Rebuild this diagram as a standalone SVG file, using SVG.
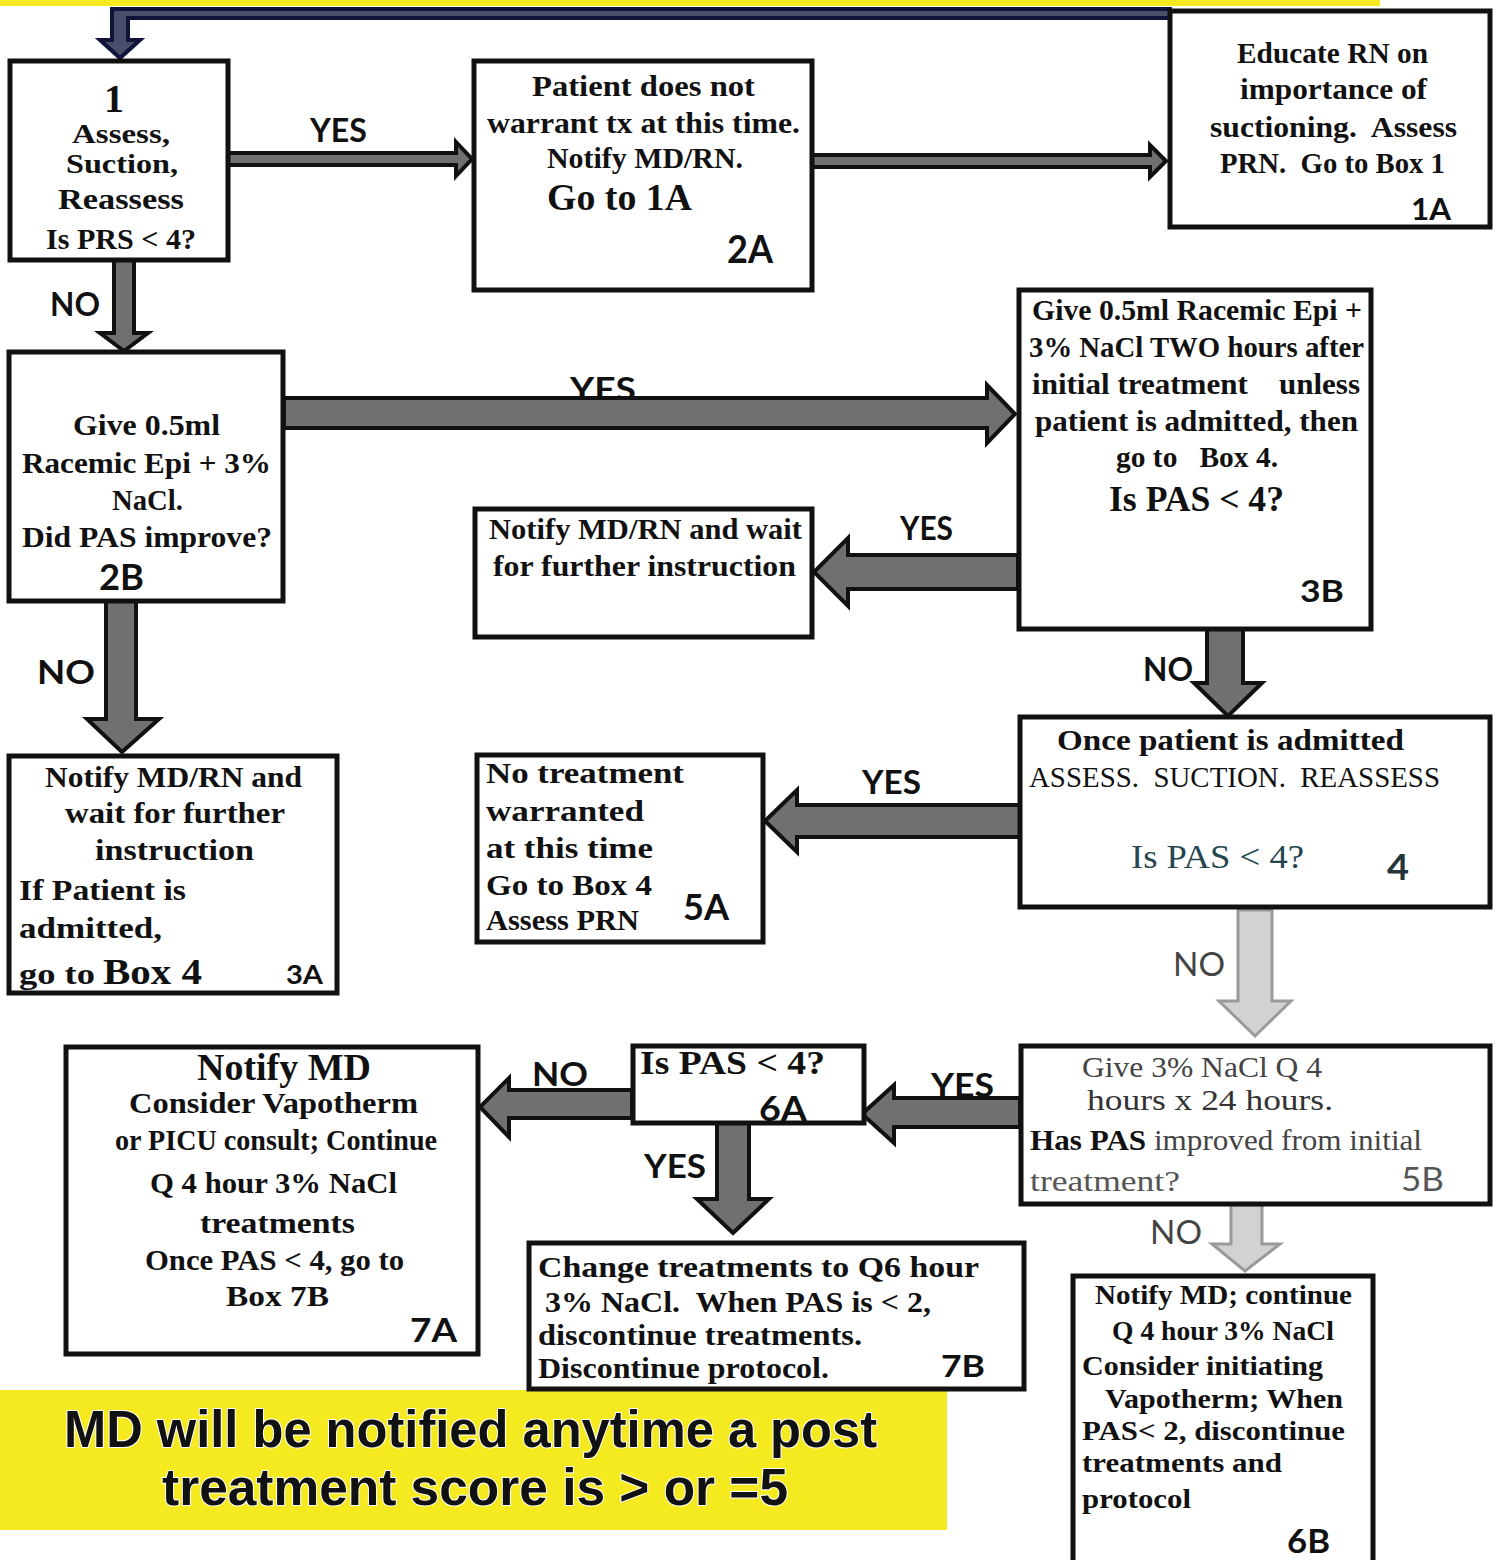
<svg xmlns="http://www.w3.org/2000/svg" width="1501" height="1560" viewBox="0 0 1501 1560">
<style>
.box{fill:#fff;stroke:#111;stroke-width:5}
.arr{fill:#707070;stroke:#111;stroke-width:4;stroke-linejoin:miter}
.arrl{fill:#d2d2d2;stroke:#9a9a9a;stroke-width:3}
text{white-space:pre}
.t{font-family:"Liberation Serif",serif;font-weight:bold;fill:#111;font-size:29px}
.r{font-family:"Liberation Serif",serif;font-weight:normal;fill:#222;font-size:29px}
.lab{font-family:Lato,"Liberation Sans",sans-serif;font-weight:bold;fill:#111;font-size:33px}
.labg{font-family:Lato,"Liberation Sans",sans-serif;font-weight:normal;fill:#444;font-size:33px}
.num{font-family:Lato,"Liberation Sans",sans-serif;font-weight:bold;fill:#111;font-size:36px}
.ban{font-family:"Liberation Sans",Arial,sans-serif;font-weight:bold;fill:#111;font-size:52px;stroke:#fff;stroke-width:2;paint-order:stroke}
</style>
<rect width="1501" height="1560" fill="#fff"/>
<rect x="0" y="0" width="1380" height="6" fill="#f5ea1f"/>
<rect x="0" y="1390" width="947" height="140" fill="#f5ea1f"/>

<g id="connectors">
<polygon class="arr" style="stroke:#10143a;fill:#4a4e6a" points="1170,9 112,9 112,40 100,40 120,58 140,40 128,40 128,18 1170,18"/>
<polygon class="arr" points="228,153 456,153 456,142 472,159 456,176 456,165 228,165"/>
<polygon class="arr" points="812,155 1150,155 1150,145 1166,161 1150,177 1150,167 812,167"/>
<polygon class="arr" points="114,260 134,260 134,333 148,333 124,351 100,333 114,333"/>
<text class="lab" x="570" y="401" textLength="66" lengthAdjust="spacingAndGlyphs">YES</text>
<polygon class="arr" points="284,398 987,398 987,385 1015,414 987,443 987,428 284,428"/>
<polygon class="arr" points="1018,555 848,555 848,538 814,572 848,606 848,589 1018,589"/>
<polygon class="arr" points="106,601 136,601 136,719 159,719 122,752 87,719 106,719"/>
<polygon class="arr" points="1207,628 1243,628 1243,683 1262,683 1228,716 1194,683 1207,683"/>
<polygon class="arr" points="1020,805 797,805 797,790 765,821 797,852 797,837 1020,837"/>
<polygon class="arrl" points="1238,910 1272,910 1272,1001 1291,1001 1255,1036 1219,1001 1238,1001"/>
<text class="lab" x="931" y="1097" textLength="63" lengthAdjust="spacingAndGlyphs">YES</text>
<polygon class="arr" points="1020,1098 894,1098 894,1085 862,1114 894,1143 894,1127 1020,1127"/>
<polygon class="arr" points="632,1090 509,1090 509,1078 480,1107 509,1137 509,1118 632,1118"/>
<polygon class="arr" points="717,1123 749,1123 749,1199 769,1199 733,1233 697,1199 717,1199"/>
<polygon class="arrl" points="1231,1205 1262,1205 1262,1244 1280,1244 1245,1271 1212,1244 1231,1244"/>
<text class="lab" x="310" y="142" textLength="57" lengthAdjust="spacingAndGlyphs">YES</text>
<text class="lab" x="50" y="316" textLength="50" lengthAdjust="spacingAndGlyphs">NO</text>
<text class="lab" x="900" y="540" textLength="53" lengthAdjust="spacingAndGlyphs">YES</text>
<text class="lab" x="37" y="684" textLength="58" lengthAdjust="spacingAndGlyphs">NO</text>
<text class="lab" x="1143" y="681" textLength="50" lengthAdjust="spacingAndGlyphs">NO</text>
<text class="lab" x="862" y="794" textLength="59" lengthAdjust="spacingAndGlyphs">YES</text>
<text class="labg" x="1173" y="976" textLength="52" lengthAdjust="spacingAndGlyphs">NO</text>
<text class="lab" x="532" y="1086" textLength="56" lengthAdjust="spacingAndGlyphs">NO</text>
<text class="lab" x="644" y="1178" textLength="62" lengthAdjust="spacingAndGlyphs">YES</text>
<text class="labg" x="1150" y="1244" textLength="52" lengthAdjust="spacingAndGlyphs">NO</text>
</g>

<g id="box1">
<rect class="box" x="10" y="61" width="218" height="199"/>
<text class="t" x="104" y="112" style="font-size:40px" textLength="20" lengthAdjust="spacingAndGlyphs">1</text>
<text class="t" x="72" y="143" style="font-size:27px" textLength="98" lengthAdjust="spacingAndGlyphs">Assess,</text>
<text class="t" x="66" y="173" style="font-size:27px" textLength="112" lengthAdjust="spacingAndGlyphs">Suction,</text>
<text class="t" x="58" y="209" textLength="126" lengthAdjust="spacingAndGlyphs">Reassess</text>
<text class="t" x="46" y="249" textLength="150" lengthAdjust="spacingAndGlyphs">Is PRS &lt; 4?</text>
</g>

<g id="box2A">
<rect class="box" x="474" y="61" width="338" height="229"/>
<text class="t" x="532" y="96" textLength="223" lengthAdjust="spacingAndGlyphs">Patient does not</text>
<text class="t" x="487" y="133" textLength="313" lengthAdjust="spacingAndGlyphs">warrant tx at this time.</text>
<text class="t" x="547" y="168" textLength="196" lengthAdjust="spacingAndGlyphs">Notify MD/RN.</text>
<text class="t" x="547" y="210" style="font-size:38px" textLength="145" lengthAdjust="spacingAndGlyphs">Go to 1A</text>
<text class="num" x="727" y="263" style="font-size:38px" textLength="46" lengthAdjust="spacingAndGlyphs">2A</text>
</g>

<g id="box1A">
<rect class="box" x="1170" y="11" width="320" height="216"/>
<text class="t" x="1237" y="63" textLength="191" lengthAdjust="spacingAndGlyphs">Educate RN on</text>
<text class="t" x="1240" y="99" textLength="187" lengthAdjust="spacingAndGlyphs">importance of</text>
<text class="t" x="1210" y="137" textLength="247" lengthAdjust="spacingAndGlyphs">suctioning.  Assess</text>
<text class="t" x="1220" y="173" textLength="225" lengthAdjust="spacingAndGlyphs">PRN.  Go to Box 1</text>
<text class="num" x="1411" y="220" style="font-size:30px" textLength="40" lengthAdjust="spacingAndGlyphs">1A</text>
</g>

<g id="box2B">
<rect class="box" x="9" y="352" width="274" height="249"/>
<text class="t" x="73" y="435" textLength="147" lengthAdjust="spacingAndGlyphs">Give 0.5ml</text>
<text class="t" x="22" y="473" textLength="249" lengthAdjust="spacingAndGlyphs">Racemic Epi + 3%</text>
<text class="t" x="112" y="510" textLength="71" lengthAdjust="spacingAndGlyphs">NaCl.</text>
<text class="t" x="22" y="547" textLength="250" lengthAdjust="spacingAndGlyphs">Did PAS improve?</text>
<text class="num" x="99" y="590" textLength="45" lengthAdjust="spacingAndGlyphs">2B</text>
</g>

<g id="box3B">
<rect class="box" x="1019" y="290" width="352" height="339"/>
<text class="t" x="1032" y="320" textLength="330" lengthAdjust="spacingAndGlyphs">Give 0.5ml Racemic Epi +</text>
<text class="t" x="1029" y="357" textLength="335" lengthAdjust="spacingAndGlyphs">3% NaCl TWO hours after</text>
<text class="t" x="1032" y="394" textLength="328" lengthAdjust="spacingAndGlyphs">initial treatment    unless</text>
<text class="t" x="1035" y="431" textLength="323" lengthAdjust="spacingAndGlyphs">patient is admitted, then</text>
<text class="t" x="1116" y="467" textLength="162" lengthAdjust="spacingAndGlyphs">go to   Box 4.</text>
<text class="t" x="1109" y="511" style="font-size:35px" textLength="175" lengthAdjust="spacingAndGlyphs">Is PAS &lt; 4?</text>
<text class="num" x="1300" y="602" style="font-size:30px" textLength="44" lengthAdjust="spacingAndGlyphs">3B</text>
</g>

<g id="boxNotify">
<rect class="box" x="475" y="509" width="337" height="128"/>
<text class="t" x="489" y="539" textLength="313" lengthAdjust="spacingAndGlyphs">Notify MD/RN and wait</text>
<text class="t" x="493" y="576" textLength="303" lengthAdjust="spacingAndGlyphs">for further instruction</text>
</g>

<g id="box3A">
<rect class="box" x="9" y="756" width="328" height="237"/>
<text class="t" x="45" y="787" textLength="257" lengthAdjust="spacingAndGlyphs">Notify MD/RN and</text>
<text class="t" x="65" y="823" textLength="220" lengthAdjust="spacingAndGlyphs">wait for further</text>
<text class="t" x="95" y="860" textLength="159" lengthAdjust="spacingAndGlyphs">instruction</text>
<text class="t" x="19" y="900" textLength="167" lengthAdjust="spacingAndGlyphs">If Patient is</text>
<text class="t" x="19" y="938" textLength="143" lengthAdjust="spacingAndGlyphs">admitted,</text>
<text class="t" x="19" y="984" textLength="76" lengthAdjust="spacingAndGlyphs">go to</text>
<text class="t" x="103" y="984" style="font-size:36px" textLength="99" lengthAdjust="spacingAndGlyphs">Box 4</text>
<text class="num" x="286" y="984" style="font-size:26px" textLength="37" lengthAdjust="spacingAndGlyphs">3A</text>
</g>

<g id="box5A">
<rect class="box" x="477" y="755" width="286" height="187"/>
<text class="t" x="486" y="783" textLength="198" lengthAdjust="spacingAndGlyphs">No treatment</text>
<text class="t" x="486" y="821" textLength="158" lengthAdjust="spacingAndGlyphs">warranted</text>
<text class="t" x="486" y="858" textLength="167" lengthAdjust="spacingAndGlyphs">at this time</text>
<text class="t" x="486" y="895" textLength="166" lengthAdjust="spacingAndGlyphs">Go to Box 4</text>
<text class="t" x="486" y="930" textLength="153" lengthAdjust="spacingAndGlyphs">Assess PRN</text>
<text class="num" x="683" y="920" textLength="46" lengthAdjust="spacingAndGlyphs">5A</text>
</g>

<g id="box4">
<rect class="box" x="1020" y="717" width="470" height="190"/>
<text class="t" x="1057" y="750" textLength="347" lengthAdjust="spacingAndGlyphs">Once patient is admitted</text>
<text class="r" x="1029" y="787" style="fill:#111" textLength="411" lengthAdjust="spacingAndGlyphs">ASSESS.  SUCTION.  REASSESS</text>
<text class="r" x="1131" y="868" style="fill:#24464f;font-size:33px" textLength="173" lengthAdjust="spacingAndGlyphs">Is PAS &lt; 4?</text>
<text class="num" x="1387" y="880" style="fill:#24363c" textLength="22" lengthAdjust="spacingAndGlyphs">4</text>
</g>

<g id="box5B">
<rect class="box" x="1021" y="1046" width="469" height="158"/>
<text class="r" x="1082" y="1077" style="fill:#444" textLength="240" lengthAdjust="spacingAndGlyphs">Give 3% NaCl Q 4</text>
<text class="r" x="1087" y="1110" style="fill:#333" textLength="246" lengthAdjust="spacingAndGlyphs">hours x 24 hours.</text>
<text class="r" x="1030" y="1150" style="fill:#444" textLength="392" lengthAdjust="spacingAndGlyphs"><tspan style="font-weight:bold;fill:#111">Has PAS</tspan> improved from initial</text>
<text class="r" x="1030" y="1191" style="fill:#555" textLength="150" lengthAdjust="spacingAndGlyphs">treatment?</text>
<text class="labg" x="1401" y="1191" style="fill:#555" textLength="43" lengthAdjust="spacingAndGlyphs">5B</text>
</g>

<g id="box6A">
<rect class="box" x="633" y="1046" width="231" height="77"/>
<text class="t" x="640" y="1074" style="font-size:33px" textLength="185" lengthAdjust="spacingAndGlyphs">Is PAS &lt; 4?</text>
<text class="num" x="759" y="1121" style="font-size:34px" textLength="48" lengthAdjust="spacingAndGlyphs">6A</text>
</g>

<g id="box7A">
<rect class="box" x="66" y="1047" width="412" height="307"/>
<text class="t" x="197" y="1080" style="font-size:37px" textLength="174" lengthAdjust="spacingAndGlyphs">Notify MD</text>
<text class="t" x="129" y="1113" textLength="289" lengthAdjust="spacingAndGlyphs">Consider Vapotherm</text>
<text class="t" x="115" y="1150" textLength="322" lengthAdjust="spacingAndGlyphs">or PICU consult; Continue</text>
<text class="t" x="150" y="1193" textLength="247" lengthAdjust="spacingAndGlyphs">Q 4 hour 3% NaCl</text>
<text class="t" x="200" y="1233" textLength="155" lengthAdjust="spacingAndGlyphs">treatments</text>
<text class="t" x="145" y="1270" textLength="259" lengthAdjust="spacingAndGlyphs">Once PAS &lt; 4, go to</text>
<text class="t" x="226" y="1306" textLength="103" lengthAdjust="spacingAndGlyphs">Box 7B</text>
<text class="num" x="410" y="1342" style="font-size:32px" textLength="47" lengthAdjust="spacingAndGlyphs">7A</text>
</g>

<g id="box7B">
<rect class="box" x="529" y="1243" width="495" height="146"/>
<text class="t" x="538" y="1277" textLength="441" lengthAdjust="spacingAndGlyphs">Change treatments to Q6 hour</text>
<text class="t" x="545" y="1312" textLength="386" lengthAdjust="spacingAndGlyphs">3% NaCl.  When PAS is &lt; 2,</text>
<text class="t" x="538" y="1345" textLength="324" lengthAdjust="spacingAndGlyphs">discontinue treatments.</text>
<text class="t" x="538" y="1378" textLength="291" lengthAdjust="spacingAndGlyphs">Discontinue protocol.</text>
<text class="num" x="941" y="1377" style="font-size:30px" textLength="44" lengthAdjust="spacingAndGlyphs">7B</text>
</g>

<g id="box6B">
<rect class="box" x="1073" y="1276" width="300" height="290"/>
<text class="t" x="1095" y="1304" style="font-size:28px" textLength="257" lengthAdjust="spacingAndGlyphs">Notify MD; continue</text>
<text class="t" x="1112" y="1340" style="font-size:28px" textLength="222" lengthAdjust="spacingAndGlyphs">Q 4 hour 3% NaCl</text>
<text class="t" x="1082" y="1375" style="font-size:28px" textLength="241" lengthAdjust="spacingAndGlyphs">Consider initiating</text>
<text class="t" x="1105" y="1408" style="font-size:28px" textLength="238" lengthAdjust="spacingAndGlyphs">Vapotherm; When</text>
<text class="t" x="1082" y="1440" style="font-size:28px" textLength="263" lengthAdjust="spacingAndGlyphs">PAS&lt; 2, discontinue</text>
<text class="t" x="1082" y="1472" style="font-size:28px" textLength="200" lengthAdjust="spacingAndGlyphs">treatments and</text>
<text class="t" x="1082" y="1508" style="font-size:28px" textLength="109" lengthAdjust="spacingAndGlyphs">protocol</text>
<text class="num" x="1287" y="1553" style="font-size:32px" textLength="43" lengthAdjust="spacingAndGlyphs">6B</text>
</g>

<g id="banner">
<text class="ban" x="64" y="1447" textLength="813" lengthAdjust="spacingAndGlyphs">MD will be notified anytime a post</text>
<text class="ban" x="162" y="1505" textLength="626" lengthAdjust="spacingAndGlyphs">treatment score is &gt; or =5</text>
</g>
</svg>
